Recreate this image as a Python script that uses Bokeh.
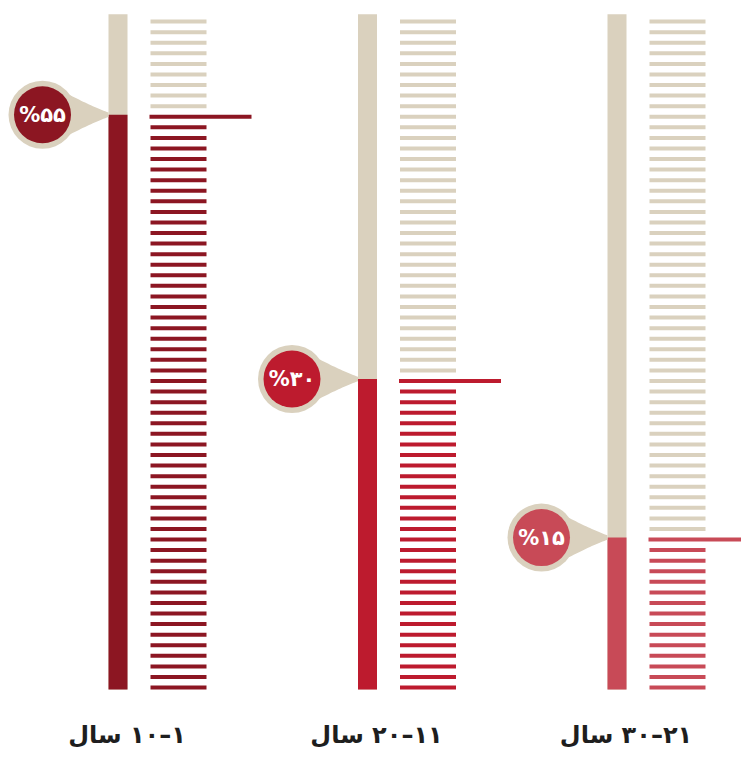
import math
from bokeh.plotting import figure
from bokeh.models import Range1d
from bokeh.embed import file_html
from bokeh.resources import INLINE
from bokeh.core.properties import value

# ---- data ----
categories = ["۱–۱۰ سال", "۱۱–۲۰ سال", "۲۱–۳۰ سال"]
values = [55, 30, 15]
colors = ["#8C1622", "#BD1B2E", "#C84A57"]
scale_max = 64          # number of 1% stripes in each gauge
beige = "#DAD1BE"

# ---- helpers ----
fa_digits = str.maketrans("0123456789", "۰۱۲۳۴۵۶۷۸۹")
bubble_labels = ["%" + str(v).translate(fa_digits) for v in values]
axis_labels = ["\u200f" + c for c in categories]

# ---- layout constants (pixels) ----
W, H = 741, 751
PPU = 10.57                 # pixels per percent unit
ZERO_PX = 695.6             # distance from frame top to value 0
y_end = ZERO_PX / PPU
y_start = -(H - ZERO_PX) / PPU
SH = 4.0 / PPU              # stripe thickness in value units

p = figure(width=W, height=H, x_range=Range1d(0, W), y_range=Range1d(y_start, y_end),
           output_backend="svg", toolbar_location=None, min_border=0,
           x_axis_location=None, y_axis_location=None)
p.grid.visible = False
p.outline_line_color = None
p.background_fill_color = "white"
p.border_fill_color = "white"

BAR_X0, STEP, BAR_W = 108.0, 249.5, 19.0
ST_OFF, ST_W, LINE_W = 42.0, 56.0, 101.0
top_val = scale_max + 0.5
bottom_val = 1 - SH

for i, (v, col, blab, alab) in enumerate(zip(values, colors, bubble_labels, axis_labels)):
    bl = BAR_X0 + STEP * i
    # gauge background and fill
    p.quad(left=[bl], right=[bl + BAR_W], bottom=[bottom_val], top=[top_val],
           fill_color=beige, line_color=None)
    p.quad(left=[bl], right=[bl + BAR_W], bottom=[bottom_val], top=[v],
           fill_color=col, line_color=None)
    # stripes
    ks = list(range(1, scale_max + 1))
    lefts = [bl + ST_OFF - (1 if k == v else 0) for k in ks]
    rights = [bl + ST_OFF + (LINE_W if k == v else ST_W) for k in ks]
    tops = [k for k in ks]
    bottoms = [k - SH for k in ks]
    cols = [col if k <= v else beige for k in ks]
    p.quad(left=lefts, right=rights, top=tops, bottom=bottoms, fill_color=cols, line_color=None)

    # bubble
    cx, cy = bl - 66.0, v
    r_out = 34.0
    a = math.radians(35)
    P0 = (r_out * math.cos(a), r_out * math.sin(a))
    Q = (50.0, 8.0)
    P2 = (66.0, 2.2)
    n = 20
    upper = []
    for j in range(n + 1):
        t = j / n
        x = (1 - t) ** 2 * P0[0] + 2 * t * (1 - t) * Q[0] + t ** 2 * P2[0]
        y = (1 - t) ** 2 * P0[1] + 2 * t * (1 - t) * Q[1] + t ** 2 * P2[1]
        upper.append((x, y))
    lower = [(x, -y) for (x, y) in reversed(upper)]
    pts = [(0.0, 0.0)] + upper + lower
    p.patch(x=[cx + px for px, py in pts], y=[cy + py / PPU for px, py in pts],
            fill_color=beige, line_color=None)
    p.scatter(x=[cx], y=[cy], size=2 * r_out, fill_color=beige, line_color=None)
    p.scatter(x=[cx], y=[cy], size=57, fill_color=col, line_color=None)
    p.text(x=[cx], y=[cy], text=[blab], text_align="center", text_baseline="middle",
           text_color="white", text_font=value("DejaVu Sans"), text_font_style="bold",
           text_font_size="21px")

    # category label
    p.text(x=[bl + 18.5], y=[(ZERO_PX - 748) / PPU], text=[alab],
           text_align="center", text_baseline="bottom", text_color="#1E1E1E",
           text_font=value("DejaVu Sans"), text_font_style="bold",
           text_font_size="24px")

open("out.html", "w").write(file_html(p, INLINE))
